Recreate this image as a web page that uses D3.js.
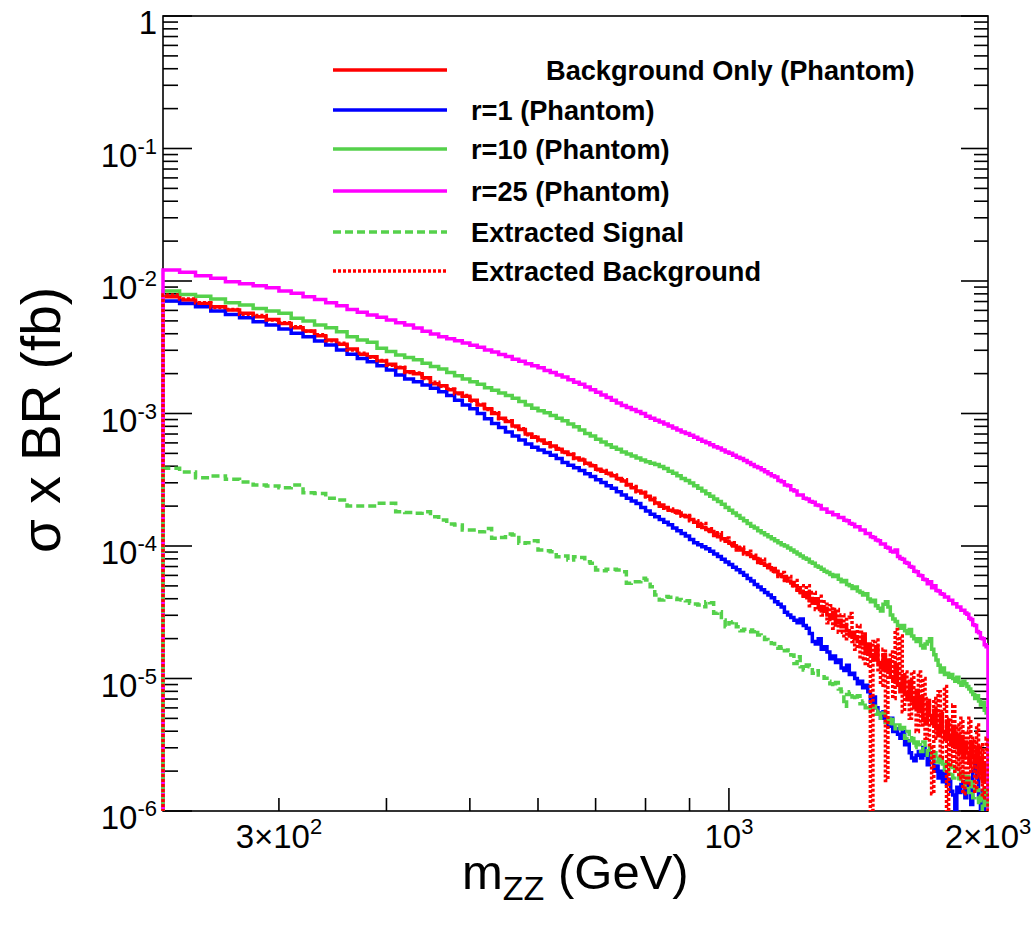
<!DOCTYPE html>
<html><head><meta charset="utf-8">
<script src="https://cdn.jsdelivr.net/npm/d3@7"></script>
<style>
body{margin:0;background:#fff}
svg{display:block}
text{font-family:"Liberation Sans",Arial,Helvetica,sans-serif;fill:#000}
</style>
</head><body>
<svg id="chart" width="1035" height="926"></svg>
<script>
// m_ZZ bin edges (GeV), 10 GeV bins
const binEdges = [
220,230,240,250,260,270,280,290,300,310,
320,330,340,350,360,370,380,390,400,410,
420,430,440,450,460,470,480,490,500,510,
520,530,540,550,560,570,580,590,600,610,
620,630,640,650,660,670,680,690,700,710,
720,730,740,750,760,770,780,790,800,810,
820,830,840,850,860,870,880,890,900,910,
920,930,940,950,960,970,980,990,1000,1010,
1020,1030,1040,1050,1060,1070,1080,1090,1100,1110,
1120,1130,1140,1150,1160,1170,1180,1190,1200,1210,
1220,1230,1240,1250,1260,1270,1280,1290,1300,1310,
1320,1330,1340,1350,1360,1370,1380,1390,1400,1410,
1420,1430,1440,1450,1460,1470,1480,1490,1500,1510,
1520,1530,1540,1550,1560,1570,1580,1590,1600,1610,
1620,1630,1640,1650,1660,1670,1680,1690,1700,1710,
1720,1730,1740,1750,1760,1770,1780,1790,1800,1810,
1820,1830,1840,1850,1860,1870,1880,1890,1900,1910,
1920,1930,1940,1950,1960,1970,1980,1990,2000];

// log10( sigma x BR / fb ) per bin (-7 = empty bin)
const bgOnlyLog = [
-2.118,-2.143,-2.169,-2.194,-2.219,-2.244,-2.269,-2.290,-2.320,-2.352,
-2.377,-2.413,-2.445,-2.478,-2.513,-2.553,-2.571,-2.604,-2.629,-2.654,
-2.684,-2.700,-2.730,-2.775,-2.790,-2.820,-2.845,-2.870,-2.900,-2.935,
-2.965,-3.000,-3.035,-3.060,-3.095,-3.120,-3.155,-3.180,-3.200,-3.225,
-3.245,-3.270,-3.290,-3.310,-3.335,-3.350,-3.375,-3.395,-3.420,-3.435,
-3.450,-3.470,-3.490,-3.510,-3.535,-3.560,-3.585,-3.600,-3.625,-3.650,
-3.675,-3.700,-3.710,-3.730,-3.735,-3.750,-3.770,-3.780,-3.800,-3.820,
-3.840,-3.860,-3.875,-3.890,-3.910,-3.930,-3.945,-3.965,-3.980,-4.000,
-4.015,-4.030,-4.050,-4.065,-4.080,-4.095,-4.115,-4.130,-4.145,-4.165,
-4.180,-4.195,-4.215,-4.230,-4.250,-4.265,-4.280,-4.300,-4.330,-4.350,
-4.380,-4.360,-4.410,-4.430,-4.400,-4.460,-4.480,-4.470,-4.520,-4.540,
-4.500,-4.580,-4.560,-4.610,-4.600,-4.640,-4.680,-4.650,-4.700,-4.720,
-4.740,-4.680,-4.810,-4.740,-4.820,-4.860,-4.760,-4.880,-4.920,-4.820,
-4.940,-4.860,-4.990,-5.010,-4.900,-5.050,-5.100,-4.980,-5.120,-5.160,
-5.020,-5.170,-5.220,-5.090,-5.250,-5.150,-5.300,-5.330,-5.180,-5.280,
-5.340,-5.240,-5.380,-5.430,-5.270,-5.400,-5.460,-5.320,-5.440,-5.500,
-5.360,-5.520,-5.430,-5.560,-5.440,-5.600,-5.480,-5.560,-5.640,-5.480,
-5.580,-5.680,-5.520,-5.720,-5.600,-5.780,-5.640,-5.720];

const r1Log = [
-2.151,-2.169,-2.194,-2.227,-2.252,-2.277,-2.307,-2.332,-2.362,-2.395,
-2.420,-2.453,-2.483,-2.521,-2.553,-2.584,-2.609,-2.639,-2.671,-2.709,
-2.739,-2.760,-2.785,-2.810,-2.835,-2.865,-2.900,-2.935,-2.965,-3.000,
-3.040,-3.075,-3.105,-3.140,-3.170,-3.200,-3.230,-3.255,-3.275,-3.295,
-3.315,-3.340,-3.370,-3.390,-3.410,-3.430,-3.455,-3.475,-3.500,-3.520,
-3.545,-3.565,-3.590,-3.615,-3.640,-3.660,-3.680,-3.710,-3.735,-3.760,
-3.780,-3.800,-3.820,-3.840,-3.865,-3.885,-3.905,-3.925,-3.950,-3.975,
-3.990,-4.005,-4.020,-4.040,-4.060,-4.080,-4.100,-4.120,-4.140,-4.160,
-4.180,-4.200,-4.220,-4.245,-4.265,-4.290,-4.310,-4.330,-4.350,-4.370,
-4.390,-4.420,-4.440,-4.460,-4.500,-4.520,-4.540,-4.560,-4.580,-4.550,
-4.600,-4.620,-4.660,-4.720,-4.740,-4.700,-4.780,-4.760,-4.800,-4.850,
-4.830,-4.880,-4.860,-4.920,-4.940,-4.900,-4.970,-4.960,-5.000,-5.040,
-5.020,-5.070,-5.050,-5.100,-5.180,-5.140,-5.220,-5.260,-5.300,-5.250,
-5.330,-5.360,-5.300,-5.400,-5.380,-5.420,-5.450,-5.400,-5.500,-5.470,
-5.560,-5.600,-5.620,-5.580,-5.550,-5.600,-5.520,-5.580,-5.650,-5.560,
-5.600,-5.700,-5.660,-5.750,-5.700,-5.780,-5.720,-5.800,-5.760,-5.850,
-5.880,-7.000,-5.820,-5.860,-5.800,-5.780,-5.900,-5.750,-5.840,-5.950,
-5.700,-5.660,-5.750,-5.900,-7.000,-5.850,-7.000,-5.950];

const r10Log = [
-2.076,-2.101,-2.116,-2.136,-2.164,-2.181,-2.207,-2.227,-2.244,-2.282,
-2.302,-2.332,-2.352,-2.383,-2.420,-2.445,-2.463,-2.508,-2.533,-2.558,
-2.578,-2.595,-2.620,-2.645,-2.665,-2.690,-2.715,-2.740,-2.760,-2.780,
-2.805,-2.825,-2.845,-2.865,-2.885,-2.910,-2.935,-2.960,-2.980,-2.995,
-3.015,-3.035,-3.055,-3.080,-3.100,-3.125,-3.150,-3.170,-3.195,-3.215,
-3.235,-3.255,-3.270,-3.290,-3.305,-3.320,-3.335,-3.350,-3.365,-3.375,
-3.385,-3.400,-3.415,-3.435,-3.450,-3.470,-3.490,-3.505,-3.525,-3.545,
-3.565,-3.585,-3.605,-3.625,-3.645,-3.665,-3.685,-3.710,-3.730,-3.750,
-3.770,-3.790,-3.810,-3.830,-3.850,-3.865,-3.885,-3.900,-3.915,-3.930,
-3.945,-3.960,-3.975,-3.990,-4.000,-4.015,-4.030,-4.045,-4.060,-4.075,
-4.090,-4.100,-4.120,-4.130,-4.150,-4.160,-4.175,-4.190,-4.200,-4.215,
-4.230,-4.220,-4.250,-4.270,-4.260,-4.290,-4.300,-4.320,-4.310,-4.340,
-4.350,-4.370,-4.360,-4.400,-4.420,-4.410,-4.450,-4.470,-4.490,-4.440,
-4.420,-4.460,-4.520,-4.550,-4.570,-4.600,-4.620,-4.600,-4.640,-4.660,
-4.630,-4.680,-4.700,-4.720,-4.700,-4.750,-4.770,-4.740,-4.720,-4.700,
-4.780,-4.820,-4.860,-4.900,-4.950,-4.920,-4.970,-4.960,-4.990,-4.970,
-5.000,-5.020,-4.990,-5.030,-5.050,-5.020,-5.040,-5.060,-5.080,-5.100,
-5.120,-5.150,-5.130,-5.170,-5.200,-5.180,-5.240,-5.260];

const r25Log = [
-1.917,-1.934,-1.960,-1.980,-2.005,-2.020,-2.035,-2.050,-2.075,-2.093,
-2.118,-2.140,-2.165,-2.186,-2.215,-2.236,-2.257,-2.274,-2.294,-2.315,
-2.332,-2.355,-2.380,-2.400,-2.420,-2.435,-2.450,-2.468,-2.485,-2.500,
-2.520,-2.535,-2.555,-2.570,-2.590,-2.605,-2.625,-2.640,-2.655,-2.675,
-2.690,-2.710,-2.725,-2.745,-2.765,-2.780,-2.800,-2.820,-2.840,-2.860,
-2.880,-2.900,-2.920,-2.940,-2.955,-2.970,-2.985,-3.000,-3.020,-3.035,
-3.050,-3.065,-3.080,-3.095,-3.110,-3.125,-3.140,-3.150,-3.165,-3.180,
-3.195,-3.210,-3.220,-3.235,-3.250,-3.260,-3.275,-3.290,-3.300,-3.315,
-3.330,-3.340,-3.355,-3.370,-3.385,-3.400,-3.410,-3.425,-3.440,-3.455,
-3.470,-3.480,-3.505,-3.515,-3.540,-3.545,-3.575,-3.585,-3.615,-3.615,
-3.640,-3.645,-3.665,-3.670,-3.690,-3.695,-3.720,-3.720,-3.745,-3.745,
-3.765,-3.765,-3.785,-3.785,-3.805,-3.810,-3.830,-3.835,-3.855,-3.855,
-3.880,-3.880,-3.905,-3.905,-3.930,-3.935,-3.955,-3.960,-3.985,-3.985,
-4.010,-4.015,-4.040,-4.045,-4.030,-4.080,-4.095,-4.100,-4.125,-4.130,
-4.155,-4.160,-4.190,-4.195,-4.220,-4.225,-4.250,-4.255,-4.285,-4.270,
-4.315,-4.300,-4.335,-4.340,-4.360,-4.365,-4.385,-4.385,-4.410,-4.410,
-4.435,-4.435,-4.460,-4.460,-4.485,-4.485,-4.505,-4.515,-4.545,-4.555,
-4.595,-4.600,-4.645,-4.655,-4.695,-4.700,-4.745,-4.760];

const sigExtLog = [
-3.414,-3.441,-3.484,-3.472,-3.497,-3.517,-3.540,-3.547,-3.560,-3.540,
-3.598,-3.603,-3.640,-3.653,-3.698,-3.698,-3.698,-3.678,-3.678,-3.741,
-3.748,-3.753,-3.741,-3.779,-3.804,-3.834,-3.842,-3.879,-3.879,-3.892,
-3.867,-3.942,-3.935,-3.910,-3.917,-3.980,-3.975,-3.960,-4.030,-4.035,
-4.043,-4.081,-4.076,-4.106,-4.081,-4.086,-4.118,-4.131,-4.181,-4.186,
-4.176,-4.176,-4.181,-4.194,-4.282,-4.269,-4.269,-4.244,-4.257,-4.307,
-4.370,-4.408,-4.382,-4.387,-4.395,-4.403,-4.408,-4.413,-4.433,-4.438,
-4.445,-4.458,-4.420,-4.428,-4.508,-4.496,-4.559,-4.609,-4.579,-4.571,
-4.609,-4.639,-4.629,-4.634,-4.647,-4.634,-4.672,-4.689,-4.705,-4.715,
-4.735,-4.760,-4.772,-4.760,-4.790,-4.785,-4.823,-4.886,-4.835,-4.911,
-4.936,-4.898,-4.911,-4.961,-4.941,-4.974,-4.986,-4.999,-5.020,-5.040,
-5.060,-5.030,-5.080,-5.100,-5.210,-5.120,-5.100,-5.140,-5.160,-5.130,
-5.190,-5.170,-5.220,-5.200,-5.250,-5.210,-5.270,-5.240,-5.300,-5.260,
-5.330,-5.290,-5.360,-5.310,-5.380,-5.350,-5.400,-5.370,-5.450,-5.400,
-5.470,-5.430,-5.520,-5.460,-5.500,-5.550,-5.480,-5.530,-5.580,-5.520,
-5.600,-5.560,-5.630,-5.580,-5.660,-5.610,-5.690,-5.640,-5.720,-5.660,
-5.750,-5.680,-5.710,-5.780,-5.700,-5.740,-5.820,-5.720,-5.860,-5.760,
-5.900,-5.800,-5.840,-5.950,-5.860,-6.100,-5.820,-5.920];

const bgExtLog = [
-2.105,-2.135,-2.165,-2.200,-2.215,-2.250,-2.260,-2.295,-2.315,-2.345,
-2.380,-2.405,-2.450,-2.470,-2.520,-2.545,-2.575,-2.600,-2.635,-2.650,
-2.690,-2.695,-2.735,-2.765,-2.795,-2.815,-2.850,-2.865,-2.905,-2.930,
-2.970,-2.995,-3.040,-3.055,-3.100,-3.115,-3.160,-3.175,-3.205,-3.220,
-3.250,-3.265,-3.295,-3.305,-3.340,-3.345,-3.380,-3.390,-3.425,-3.430,
-3.455,-3.465,-3.495,-3.500,-3.540,-3.550,-3.590,-3.595,-3.630,-3.640,
-3.680,-3.690,-3.715,-3.720,-3.745,-3.740,-3.775,-3.770,-3.810,-3.810,
-3.850,-3.830,-3.885,-3.870,-3.920,-3.900,-3.955,-3.940,-3.990,-3.975,
-4.030,-4.010,-4.060,-4.040,-4.090,-4.070,-4.125,-4.100,-4.160,-4.140,
-4.190,-4.170,-4.230,-4.200,-4.260,-4.230,-4.300,-4.260,-4.350,-4.300,
-4.390,-4.300,-4.450,-4.350,-4.480,-4.380,-4.520,-4.420,-4.580,-4.450,
-4.620,-4.480,-4.650,-4.520,-4.700,-4.540,-4.510,-4.720,-4.780,-4.600,
-4.850,-4.650,-4.900,-4.760,-7.000,-4.720,-4.710,-4.950,-5.050,-4.780,
-5.770,-4.950,-4.800,-5.150,-4.630,-5.050,-4.680,-5.250,-4.950,-5.100,
-5.300,-4.950,-5.150,-5.400,-4.950,-5.350,-5.000,-5.450,-5.150,-5.500,
-5.870,-5.150,-5.450,-5.100,-5.600,-5.250,-5.060,-7.000,-5.300,-5.650,
-5.200,-5.700,-5.350,-5.750,-5.300,-5.870,-5.400,-5.800,-5.300,-5.700,
-5.450,-5.850,-5.350,-5.750,-5.500,-5.900,-5.550,-5.450];

// Axis ticks and labels
const yDecades = [1e-6,1e-5,1e-4,1e-3,1e-2,1e-1,1];
const yMinorFactors = [2,3,4,5,6,7,8,9];
const yTickLabels = [
  {v:1,    base:"1",  exp:""},
  {v:1e-1, base:"10", exp:"-1"},
  {v:1e-2, base:"10", exp:"-2"},
  {v:1e-3, base:"10", exp:"-3"},
  {v:1e-4, base:"10", exp:"-4"},
  {v:1e-5, base:"10", exp:"-5"},
  {v:1e-6, base:"10", exp:"-6"}];
const xMinorTicks = [300,400,500,600,700,800,900];
const xMajorTicks = [1000,2000];
const xTickLabels = [
  {v:300,  base:"3\u00d710", exp:"2"},
  {v:1000, base:"10",        exp:"3"},
  {v:2000, base:"2\u00d710", exp:"3"}];

const seriesNames = ["Background Only (Phantom)","r=1 (Phantom)","r=10 (Phantom)","r=25 (Phantom)","Extracted Signal","Extracted Background"];
const seriesColors = ["#ff0000","#0000ff","#55d14b","#ff00ff","#55d14b","#ff0000"];
const seriesDash = [null,null,null,null,"8,4","3,2"];
const seriesData = [bgOnlyLog, r1Log, r10Log, r25Log, sigExtLog, bgExtLog];

// ---------------------------------------------------------------
const svg = d3.select("#chart");
const W = 1035, H = 926;
const plot = {left:163, right:988, top:16, bottom:811};

svg.append("rect").attr("width",W).attr("height",H).attr("fill","#fff");

const x = d3.scaleLog().domain([binEdges[0], binEdges[binEdges.length-1]]).range([plot.left, plot.right]);
const y = d3.scaleLog().domain([1e-6, 1]).range([plot.bottom, plot.top]);

svg.append("clipPath").attr("id","clip").append("rect")
  .attr("x", plot.left-3).attr("y", plot.top).attr("width", plot.right-plot.left+4).attr("height", plot.bottom-plot.top);

// frame
svg.append("rect").attr("x",plot.left).attr("y",plot.top)
  .attr("width",plot.right-plot.left).attr("height",plot.bottom-plot.top)
  .attr("fill","none").attr("stroke","#000").attr("stroke-width",1.6);

const tickG = svg.append("g").attr("stroke","#000").attr("stroke-width",1.6);
// y ticks (left and right)
yDecades.forEach(d => {
  const yy = y(d);
  tickG.append("line").attr("x1",plot.left).attr("x2",plot.left+29).attr("y1",yy).attr("y2",yy);
  tickG.append("line").attr("x1",plot.right).attr("x2",plot.right-27).attr("y1",yy).attr("y2",yy);
  if (d < 1) yMinorFactors.forEach(f => {
    const ym = y(d*f);
    tickG.append("line").attr("x1",plot.left).attr("x2",plot.left+15).attr("y1",ym).attr("y2",ym);
    tickG.append("line").attr("x1",plot.right).attr("x2",plot.right-14).attr("y1",ym).attr("y2",ym);
  });
});
// x ticks
xMinorTicks.forEach(v => {
  tickG.append("line").attr("x1",x(v)).attr("x2",x(v)).attr("y1",plot.bottom).attr("y2",plot.bottom-13);
});
xMajorTicks.forEach(v => {
  tickG.append("line").attr("x1",x(v)).attr("x2",x(v)).attr("y1",plot.bottom).attr("y2",plot.bottom-23);
});

// tick labels
yTickLabels.forEach(t => {
  const tx = svg.append("text").attr("x",157).attr("y",y(t.v)+18)
    .attr("text-anchor","end").attr("font-size",33);
  tx.append("tspan").text(t.base);
  if (t.exp) tx.append("tspan").attr("font-size",22).attr("dy",-13).text(t.exp);
});
xTickLabels.forEach(t => {
  const tx = svg.append("text").attr("x",x(t.v)).attr("y",848)
    .attr("text-anchor","middle").attr("font-size",33);
  tx.append("tspan").text(t.base);
  tx.append("tspan").attr("font-size",22).attr("dy",-14).text(t.exp);
});

// axis titles
const xt = svg.append("text").attr("x",462).attr("y",889).attr("font-size",49);
xt.append("tspan").text("m");
xt.append("tspan").attr("font-size",34).attr("dy",11).text("ZZ");
xt.append("tspan").attr("dy",-11).text(" (GeV)");

svg.append("text").attr("transform","translate(60,420) rotate(-90)")
  .attr("text-anchor","middle").attr("font-size",55).text("\u03c3 x BR (fb)");

// histograms
const line = d3.line();
function stepPoints(logs){
  const yb = plot.bottom + 6;
  const pts = [[x(binEdges[0]), yb]];
  logs.forEach((l,i) => {
    const v = Math.pow(10, l);
    const yy = v >= y.domain()[0] ? y(v) : yb;
    pts.push([x(binEdges[i]), yy]);
    pts.push([x(binEdges[i+1]), yy]);
  });
  pts.push([x(binEdges[logs.length]), yb]);
  return pts;
}
const histG = svg.append("g").attr("clip-path","url(#clip)");
seriesData.forEach((d,i) => {
  histG.append("path").attr("d", line(stepPoints(d)))
    .attr("fill","none").attr("stroke",seriesColors[i]).attr("stroke-width",3.5)
    .attr("stroke-dasharray",seriesDash[i]).attr("stroke-linejoin","miter");
});

// legend
const legY = [70,110,149,191,232,271];
const legTextX = [546,471,471,471,471,471];
seriesNames.forEach((n,i) => {
  svg.append("line").attr("x1",333).attr("x2",447).attr("y1",legY[i]).attr("y2",legY[i])
    .attr("stroke",seriesColors[i]).attr("stroke-width",3.4).attr("stroke-dasharray",seriesDash[i]);
  svg.append("text").attr("x",legTextX[i]).attr("y",legY[i]+9.5)
    .attr("font-size",27.2).attr("font-weight","bold").text(n);
});
</script>
</body></html>
